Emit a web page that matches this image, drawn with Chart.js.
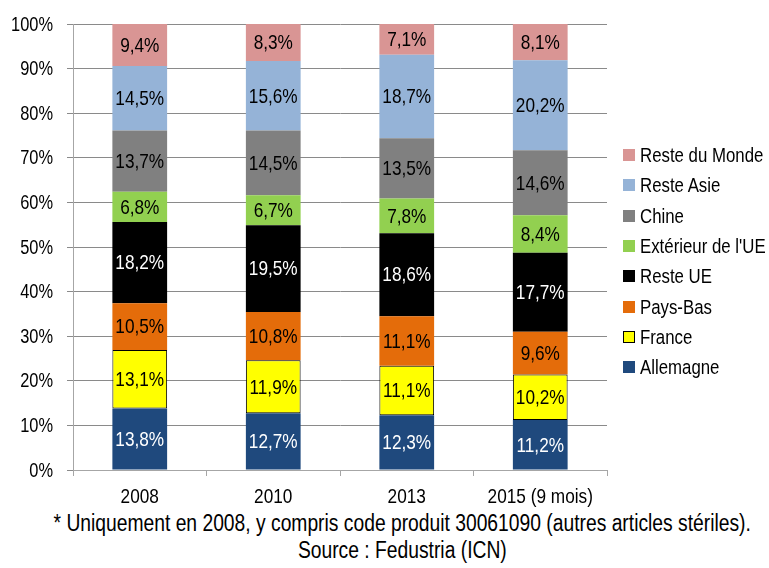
<!DOCTYPE html>
<html><head><meta charset="utf-8">
<script src="https://cdn.jsdelivr.net/npm/chart.js@4.4.1/dist/chart.umd.min.js"></script>
<style>
body{margin:0;background:#fff;}
#wrap{position:relative;width:769px;height:568px;overflow:hidden;font-family:'Liberation Sans',Arial,sans-serif;}
#cvbox{position:absolute;left:0;top:0;width:769px;height:510px;}
#legend{position:absolute;left:623px;top:140px;}
.li{display:flex;align-items:center;height:30.3px;font-size:20.5px;color:#000;white-space:nowrap;}
.sw{width:12px;height:12px;margin-right:5px;box-sizing:border-box;flex:none;}
.tx{display:inline-block;transform:scaleX(0.82);transform-origin:left center;}
#foot{position:absolute;left:-98px;top:510px;width:1000px;text-align:center;font-size:23.5px;line-height:27px;color:#000;}
#foot span{display:inline-block;transform-origin:center center;white-space:nowrap;}
</style></head>
<body>
<div id="wrap">
  <div id="cvbox"><canvas id="cv"></canvas></div>
  <div id="legend"></div>
  <div id="foot"><span id="f1">* Uniquement en 2008, y compris code produit 30061090 (autres articles stériles).</span><br><span id="f2">Source : Fedustria (ICN)</span></div>
</div>
<script>
const categories = ['2008', '2010', '2013', '2015 (9 mois)'];
const seriesNames = ['Allemagne', 'France', 'Pays-Bas', 'Reste UE', "Extérieur de l'UE", 'Chine', 'Reste Asie', 'Reste du Monde'];
const allemagne   = [13.8, 12.7, 12.3, 11.2];
const france      = [13.1, 11.9, 11.1, 10.2];
const paysBas     = [10.5, 10.8, 11.1, 9.6];
const resteUE     = [18.2, 19.5, 18.6, 17.7];
const exterieurUE = [6.8, 6.7, 7.8, 8.4];
const chine       = [13.7, 14.5, 13.5, 14.6];
const resteAsie   = [14.5, 15.6, 18.7, 20.2];
const resteMonde  = [9.4, 8.3, 7.1, 8.1];
const yTicks = [0, 10, 20, 30, 40, 50, 60, 70, 80, 90, 100];

const seriesValues = [allemagne, france, paysBas, resteUE, exterieurUE, chine, resteAsie, resteMonde];
const colors = ['#1F497D', '#FFFF00', '#E46C0A', '#000000', '#92D050', '#808080', '#95B3D7', '#D99594'];
const labelColors = ['#ffffff', '#000000', '#000000', '#ffffff', '#000000', '#000000', '#000000', '#000000'];
const borders = [0, 1, 0, 0, 0, 0, 0, 0];

const FONT = "'Liberation Sans',Arial,sans-serif";
const NARROW = 0.82;

const datasets = seriesNames.map((n, i) => ({
  label: n,
  data: seriesValues[i],
  backgroundColor: colors[i],
  borderColor: '#000000',
  borderWidth: borders[i],
  borderSkipped: false,
  barPercentage: 0.41,
  categoryPercentage: 1.0
}));

// HTML legend (reverse order)
const lg = document.getElementById('legend');
for (let i = seriesNames.length - 1; i >= 0; i--) {
  const d = document.createElement('div'); d.className = 'li';
  const s = document.createElement('span'); s.className = 'sw';
  s.style.background = colors[i];
  if (borders[i]) s.style.border = '1.5px solid #000';
  const t = document.createElement('span'); t.className = 'tx'; t.textContent = seriesNames[i];
  d.appendChild(s); d.appendChild(t); lg.appendChild(d);
}
// footer condensed
['f1', 'f2'].forEach(id => {
  document.getElementById(id).style.transform = 'scaleX(' + NARROW + ')';
});

function narrowText(ctx, text, x, y, align) {
  ctx.save();
  ctx.translate(x, y);
  ctx.scale(NARROW, 1);
  ctx.textAlign = align;
  ctx.fillText(text, 0, 0);
  ctx.restore();
}

const textPlugin = {
  id: 'narrowTexts',
  afterDatasetsDraw(chart) {
    const ctx = chart.ctx;
    ctx.save();
    ctx.textBaseline = 'middle';
    ctx.font = "21px " + FONT;
    chart.data.datasets.forEach((ds, i) => {
      const meta = chart.getDatasetMeta(i);
      meta.data.forEach((el, j) => {
        const p = el.getCenterPoint();
        ctx.fillStyle = labelColors[i];
        narrowText(ctx, ds.data[j].toFixed(1).replace('.', ',') + '%', p.x, p.y + 1, 'center');
      });
    });
    ctx.fillStyle = '#000';
    const xs = chart.scales.x, ys = chart.scales.y, ca = chart.chartArea;
    ctx.font = "21px " + FONT;
    categories.forEach((c, i) => {
      narrowText(ctx, c, xs.getPixelForValue(i), ca.bottom + 27, 'center');
    });
    ctx.font = "20px " + FONT;
    yTicks.forEach(v => {
      narrowText(ctx, v + '%', ca.left - 20, ys.getPixelForValue(v) + 1, 'right');
    });
    ctx.restore();
  }
};

new Chart(document.getElementById('cv'), {
  type: 'bar',
  data: { labels: categories, datasets },
  options: {
    responsive: true,
    maintainAspectRatio: false,
    animation: false,
    layout: { padding: { top: 24, right: 162, left: 0, bottom: 0 } },
    plugins: { legend: { display: false }, tooltip: { enabled: false } },
    scales: {
      x: {
        stacked: true,
        afterFit(s) { s.height = 40; },
        grid: { drawOnChartArea: false, offset: true, tickLength: 6, color: '#a6a6a6' },
        border: { color: '#a6a6a6' },
        ticks: { display: false }
      },
      y: {
        stacked: true,
        min: 0, max: 100,
        afterFit(s) { s.width = 73; },
        afterBuildTicks(s) { s.ticks = yTicks.map(v => ({ value: v })); },
        grid: { color: '#8a8a8a', tickLength: 6 },
        border: { color: '#a6a6a6' },
        ticks: { display: false }
      }
    }
  },
  plugins: [textPlugin]
});
</script>
</body></html>
